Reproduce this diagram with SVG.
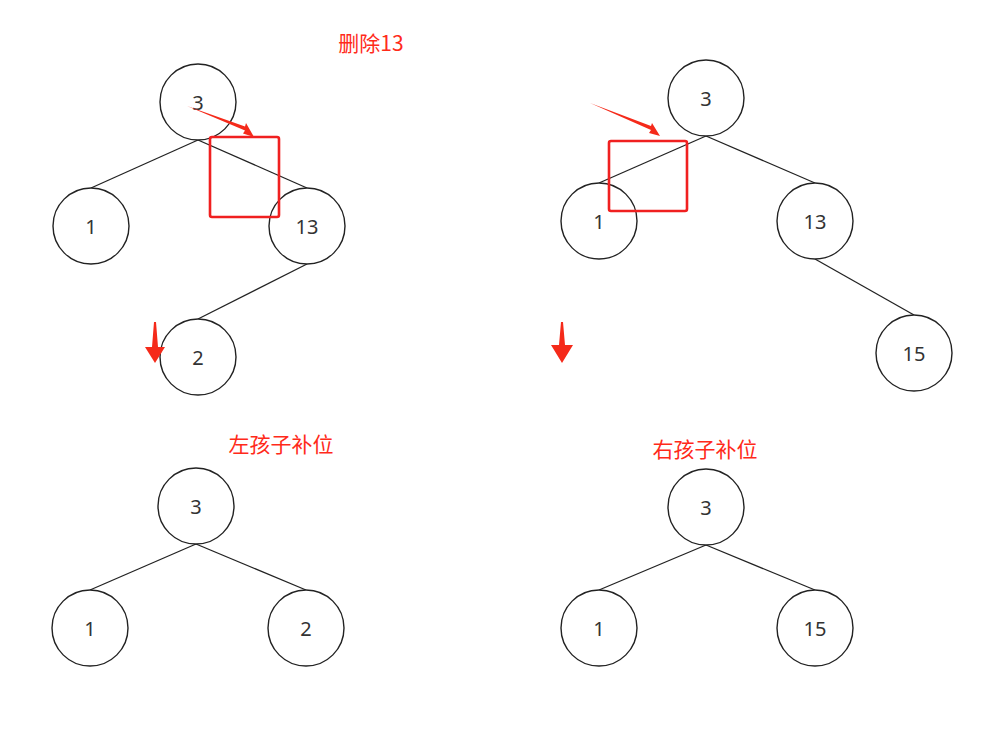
<svg xmlns="http://www.w3.org/2000/svg" width="982" height="740" viewBox="0 0 982 740">
<style>
.n{fill:#fff;stroke:#222;stroke-width:1.4}
.e{stroke:#222;stroke-width:1.3;fill:none}
.t{font-family:"Noto Sans","Open Sans",sans-serif;font-size:20px;fill:#333;text-anchor:middle;dominant-baseline:central}
.lab{font-family:"Noto Sans CJK SC","Noto Sans",sans-serif;font-size:21px;fill:#ff2a1a;text-anchor:middle;dominant-baseline:central}
.box{fill:none;stroke:#f02020;stroke-width:2.6}
.ra{fill:#f52a1a}
</style>
<rect width="982" height="740" fill="#fff"/>
<g id="connectors">
<line class="e" x1="198" y1="140" x2="91" y2="188"/>
<line class="e" x1="198" y1="140" x2="307" y2="188"/>
<line class="e" x1="307" y1="264" x2="198" y2="319"/>
<line class="e" x1="706" y1="136" x2="599" y2="183"/>
<line class="e" x1="706" y1="136" x2="815" y2="183"/>
<line class="e" x1="815" y1="259" x2="914" y2="315"/>
<line class="e" x1="196" y1="544" x2="90" y2="590"/>
<line class="e" x1="196" y1="544" x2="306" y2="590"/>
<line class="e" x1="706" y1="545" x2="599" y2="590"/>
<line class="e" x1="706" y1="545" x2="815" y2="590"/>
</g>
<g id="n3a"><circle class="n" cx="198" cy="102" r="38"/><text class="t" x="198" y="102">3</text></g>
<g id="n1a"><circle class="n" cx="91" cy="226" r="38"/><text class="t" x="91" y="226">1</text></g>
<g id="n13a"><circle class="n" cx="307" cy="226" r="38"/><text class="t" x="307" y="226">13</text></g>
<g id="n2a"><circle class="n" cx="198" cy="357" r="38"/><text class="t" x="198" y="357">2</text></g>
<g id="n3b"><circle class="n" cx="706" cy="98" r="38"/><text class="t" x="706" y="98">3</text></g>
<g id="n1b"><circle class="n" cx="599" cy="221" r="38"/><text class="t" x="599" y="221">1</text></g>
<g id="n13b"><circle class="n" cx="815" cy="221" r="38"/><text class="t" x="815" y="221">13</text></g>
<g id="n15b"><circle class="n" cx="914" cy="353" r="38"/><text class="t" x="914" y="353">15</text></g>
<g id="n3c"><circle class="n" cx="196" cy="506" r="38"/><text class="t" x="196" y="506">3</text></g>
<g id="n1c"><circle class="n" cx="90" cy="628" r="38"/><text class="t" x="90" y="628">1</text></g>
<g id="n2c"><circle class="n" cx="306" cy="628" r="38"/><text class="t" x="306" y="628">2</text></g>
<g id="n3d"><circle class="n" cx="706" cy="507" r="38"/><text class="t" x="706" y="507">3</text></g>
<g id="n1d"><circle class="n" cx="599" cy="628" r="38"/><text class="t" x="599" y="628">1</text></g>
<g id="n15d"><circle class="n" cx="815" cy="628" r="38"/><text class="t" x="815" y="628">15</text></g>
<g id="annotations">
<rect class="box" x="210" y="137" width="69" height="80" rx="2"/>
<rect class="box" x="609" y="141" width="78" height="70" rx="2"/>
<polygon class="ra" points="187,106 245,130.5 243,133.5 254,137 246,123 245,126.5"/>
<polygon class="ra" points="590,103 651,130 649,133 660,136 652,123 651,126"/>
<polygon class="ra" points="154,322 156,322 158,347 165,347 155,363 145,347 152,347"/>
<polygon class="ra" points="561,322 563,322 565,345 573,345 562,363 551,345 559,345"/>
<text class="lab" x="281" y="443">左孩子补位</text>
<text class="lab" x="705" y="448">右孩子补位</text>
<text class="lab" x="371" y="42">删除13</text>
</g>
</svg>
